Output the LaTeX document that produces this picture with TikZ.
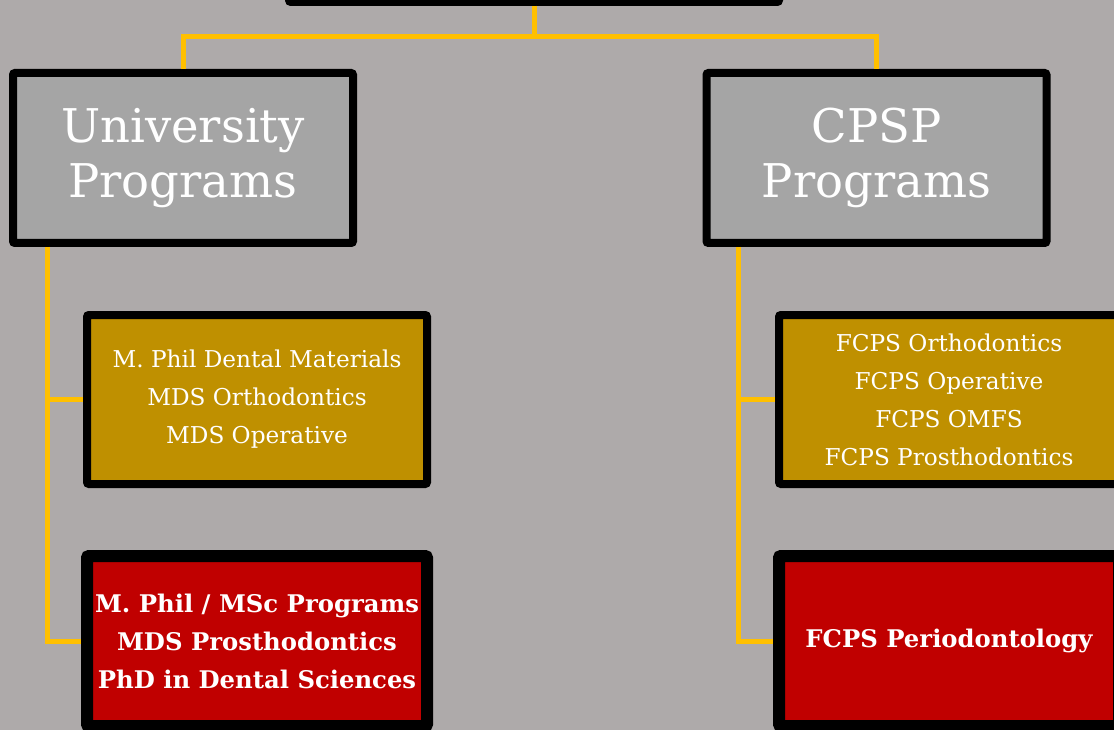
\documentclass[tikz,border=0pt]{standalone}
\usepackage{fontspec}
\setmainfont{DejaVu Serif}
\usetikzlibrary{calc}

\definecolor{bggray}{HTML}{AEAAAA}
\definecolor{boxgray}{HTML}{A5A5A5}
\definecolor{boxgold}{HTML}{BF9000}
\definecolor{boxred}{HTML}{C00000}
\definecolor{linkgold}{HTML}{FFC000}

\tikzset{
    prog/.style={draw=black, rounded corners=2pt, text=white, align=center,
        minimum width=340pt, inner sep=0pt},
    headbox/.style={prog, fill=boxgray, line width=8pt, minimum height=170pt,
        font=\fontsize{46.5}{55}\selectfont},
    goldbox/.style={prog, fill=boxgold, line width=8pt, minimum height=169pt,
        font=\fontsize{23.2}{38}\selectfont},
    redbox/.style={prog, fill=boxred, line width=12pt, minimum height=170pt,
        font=\bfseries\fontsize{24.3}{38}\selectfont},
    link/.style={draw=linkgold, line width=5pt},
}

\begin{document}
\begin{tikzpicture}[x=1pt, y=-1pt]
        \useasboundingbox (0,0) rectangle (1114,730);
        \clip (0,0) rectangle (1114,730);
        \fill[bggray] (0,0) rectangle (1114,730);
        % boxes
        \node[headbox, minimum width=490pt, minimum height=100pt] (top) at (534,-48) {};
        \node[headbox] (uni)  at (183,158) {University\\Programs};
        \node[headbox] (cpsp) at (876.5,158) {CPSP\\Programs};
        \node[goldbox] (unigold) at (257,399.5) {M. Phil Dental Materials\\MDS Orthodontics\\MDS Operative};
        \node[redbox]  (unired)  at (257,641) {M. Phil / MSc Programs\\MDS Prosthodontics\\PhD in Dental Sciences};
        \node[goldbox] (cpspgold) at (949,399.5) {FCPS Orthodontics\\FCPS Operative\\FCPS OMFS\\FCPS Prosthodontics};
        \node[redbox]  (cpspred)  at (949,641) {FCPS Periodontology};
        % links
        \draw[link] (top.south) -- ++(0,31) -| (uni.north);
        \draw[link] (top.south) -- ++(0,31) -| (cpsp.north);
        \draw[link] ([xshift=38pt]uni.south west) |- (unigold.west);
        \draw[link] ([xshift=38pt]uni.south west) |- (unired.west);
        \draw[link] ([xshift=36pt]cpsp.south west) |- (cpspgold.west);
        \draw[link] ([xshift=36pt]cpsp.south west) |- (cpspred.west);
\end{tikzpicture}
\end{document}
